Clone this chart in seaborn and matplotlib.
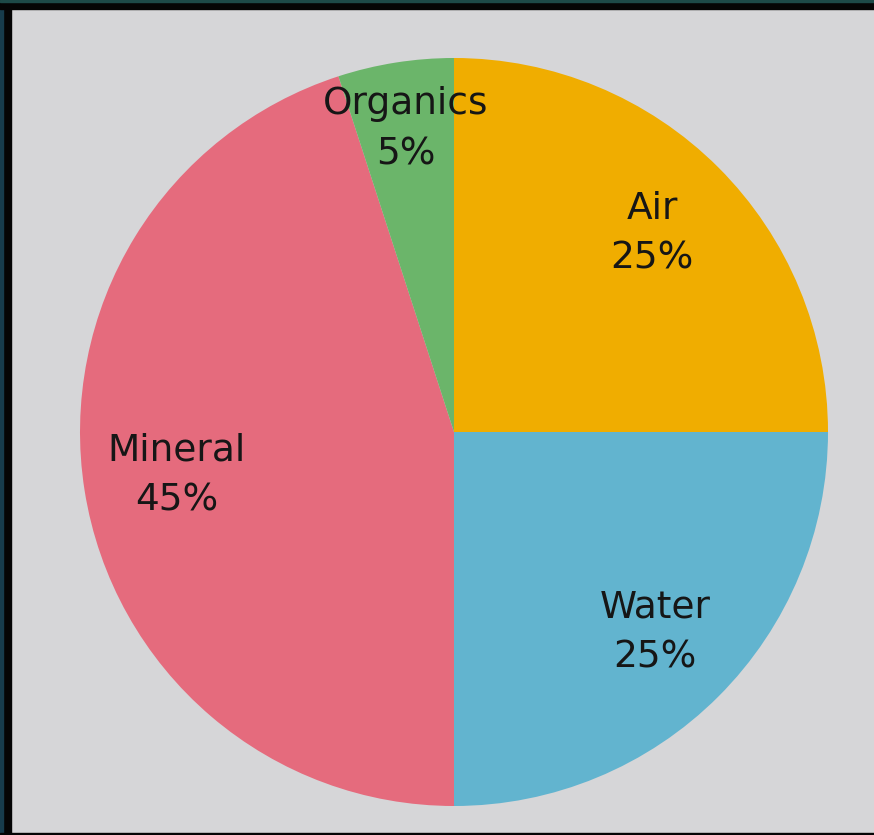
import matplotlib
matplotlib.use("Agg")
import matplotlib.pyplot as plt
import seaborn as sns
import numpy as np
from matplotlib.patches import Rectangle

sns.set_theme(style="white")
plt.rcParams['font.family'] = ['DejaVu Sans']

categories = ["Air", "Water", "Mineral", "Organics"]
values = [25, 25, 45, 5]
colors = ["#f0ad00", "#62b4cf", "#e56b7d", "#6bb56a"]

W, H = 874, 835
fig = plt.figure(figsize=(W / 100, H / 100), dpi=100)
fig.patch.set_facecolor("#d6d6d8")

# frame
fig.patches.append(Rectangle((0, 0), 11 / W, 1, transform=fig.transFigure, color="#050505", zorder=0))
fig.patches.append(Rectangle((0, 0), 3 / W, 1, transform=fig.transFigure, color="#173c4c", zorder=0))
fig.patches.append(Rectangle((0, 1 - 9 / H), 1, 9 / H, transform=fig.transFigure, color="#050505", zorder=0))
fig.patches.append(Rectangle((0, 1 - 1.5 / H), 1, 1.5 / H, transform=fig.transFigure, color="#1d4a48", zorder=0))
fig.patches.append(Rectangle((0, 0), 1, 2.5 / H, transform=fig.transFigure, color="#050505", zorder=0))

r_px = 374
cx, cy = 454, 432
ax = fig.add_axes([(cx - r_px) / W, (H - cy - r_px) / H, 2 * r_px / W, 2 * r_px / H])
ax.set_facecolor("none")

wedges, _ = ax.pie(values, colors=colors, startangle=90, counterclock=False,
                   radius=1, wedgeprops=dict(linewidth=0))
ax.set_xlim(-1, 1)
ax.set_ylim(-1, 1)
ax.set_aspect("auto")
ax.axis("off")

dists = [0.75, 0.76, 0.75, 0.82]
for w, cat, v, d in zip(wedges, categories, values, dists):
    mid = np.deg2rad((w.theta1 + w.theta2) / 2)
    ax.text(d * np.cos(mid), d * np.sin(mid), f"{cat}\n{v}%", ha="center", va="center",
            fontsize=27, color="#161616", linespacing=1.5)

fig.savefig("out.png", dpi=100, facecolor=fig.get_facecolor())
